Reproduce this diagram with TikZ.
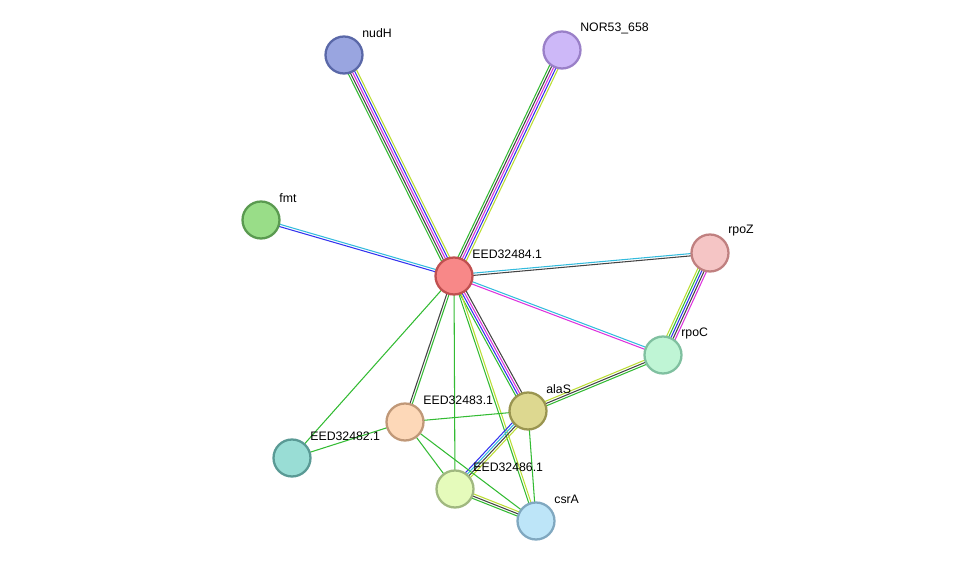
\documentclass[tikz,border=0pt]{standalone}
\usepackage{fontspec}
\setmainfont{Liberation Sans}
\usetikzlibrary{calc, backgrounds}

\definecolor{ecyan}{HTML}{33BBDD}
\definecolor{egreen}{HTML}{33BB33}
\definecolor{edark}{HTML}{444444}
\definecolor{emag}{HTML}{DD33DD}
\definecolor{eblue}{HTML}{3333EE}
\definecolor{eyel}{HTML}{BBDD33}

% edge with several parallel evidence lines
\newcommand{\sedge}[4]{%
  \foreach \c [count=\i] in {#4} {
    \pgfmathsetmacro{\o}{(\i-(#3+1)/2)*1.3}
    \draw[evid, \c] ($(#1)!\o pt!90:(#2)$) -- ($(#2)!\o pt!-90:(#1)$);
  }}

\begin{document}
\begin{tikzpicture}[x=0.02cm, y=-0.02cm,
    prot/.style={circle, line width=1.3pt, minimum size=0.74cm, inner sep=0pt},
    lbl/.style={anchor=west, inner sep=0pt, font=\fontsize{7}{8}\selectfont},
    evid/.style={line width=0.6pt}
]
\useasboundingbox (0,0) rectangle (975,567);

% proteins
\node[prot, fill={rgb,255:red,153;green,165;blue,224}, draw={rgb,255:red,90;green,104;blue,168}] (nudH) at (344,55) {};
\node[prot, fill={rgb,255:red,205;green,184;blue,248}, draw={rgb,255:red,154;green,128;blue,200}] (nor) at (562,50) {};
\node[prot, fill={rgb,255:red,153;green,221;blue,136}, draw={rgb,255:red,90;green,154;blue,80}] (fmt) at (261,220) {};
\node[prot, fill={rgb,255:red,248;green,136;blue,136}, draw={rgb,255:red,192;green,80;blue,80}] (e84) at (454,276) {};
\node[prot, fill={rgb,255:red,245;green,197;blue,197}, draw={rgb,255:red,192;green,128;blue,128}] (rpoZ) at (710,253) {};
\node[prot, fill={rgb,255:red,191;green,245;blue,213}, draw={rgb,255:red,128;green,192;blue,160}] (rpoC) at (663,355) {};
\node[prot, fill={rgb,255:red,221;green,216;blue,144}, draw={rgb,255:red,154;green,149;blue,80}] (alaS) at (528,411) {};
\node[prot, fill={rgb,255:red,253;green,216;blue,184}, draw={rgb,255:red,192;green,152;blue,120}] (e83) at (405,422) {};
\node[prot, fill={rgb,255:red,153;green,221;blue,213}, draw={rgb,255:red,90;green,154;blue,149}] (e82) at (292,458) {};
\node[prot, fill={rgb,255:red,229;green,251;blue,187}, draw={rgb,255:red,160;green,184;blue,128}] (e86) at (455,489) {};
\node[prot, fill={rgb,255:red,189;green,229;blue,248}, draw={rgb,255:red,128;green,168;blue,192}] (csrA) at (536,521) {};

% labels
\node[lbl] (l1) at ([shift={(18,-22)}]nudH.center) {nudH};
\node[lbl] (l2) at ([shift={(18,-22)}]nor.center) {NOR53\_658};
\node[lbl] (l3) at ([shift={(18,-22)}]fmt.center) {fmt};
\node[lbl] (l4) at ([shift={(18,-22)}]e84.center) {EED32484.1};
\node[lbl] (l5) at ([shift={(18,-22)}]rpoZ.center) {rpoZ};
\node[lbl] (l6) at ([shift={(18,-22)}]rpoC.center) {rpoC};
\node[lbl] (l7) at ([shift={(18,-22)}]alaS.center) {alaS};
\node[lbl] (l8) at ([shift={(18,-22)}]e83.center) {EED32483.1};
\node[lbl] (l9) at ([shift={(18,-22)}]e82.center) {EED32482.1};
\node[lbl] (l10) at ([shift={(18,-22)}]e86.center) {EED32486.1};
\node[lbl] (l11) at ([shift={(18,-22)}]csrA.center) {csrA};

% interactions
\begin{pgfonlayer}{background}
\sedge{nudH}{e84}{5}{egreen, edark, emag, eblue, eyel}
\sedge{nor}{e84}{5}{egreen, edark, emag, eblue, eyel}
\sedge{fmt}{e84}{2}{eblue, ecyan}
\sedge{e84}{rpoZ}{2}{edark, ecyan}
\sedge{e84}{rpoC}{2}{emag, ecyan}
\sedge{rpoZ}{rpoC}{5}{eyel, egreen, eblue, edark, emag}
\sedge{e84}{alaS}{4}{egreen, eblue, emag, edark}
\sedge{e84}{e83}{2}{edark, egreen}
\sedge{e84}{e82}{1}{egreen}
\sedge{e84}{e86}{1}{egreen}
\sedge{e84}{csrA}{2}{egreen, eyel}
\sedge{alaS}{rpoC}{3}{egreen, edark, eyel}
\sedge{alaS}{e83}{1}{egreen}
\sedge{alaS}{e86}{4}{eblue, ecyan, edark, eyel}
\sedge{alaS}{csrA}{1}{egreen}
\sedge{e83}{e82}{1}{egreen}
\sedge{e83}{e86}{1}{egreen}
\sedge{e83}{csrA}{1}{egreen}
\sedge{e86}{csrA}{3}{egreen, edark, eyel}
\end{pgfonlayer}

\end{tikzpicture}
\end{document}
